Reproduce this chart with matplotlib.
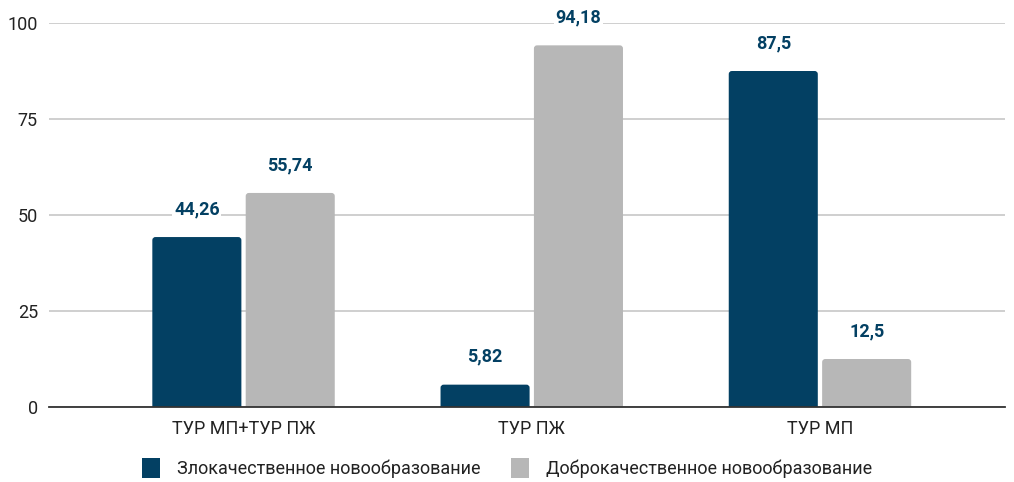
import matplotlib
matplotlib.use("Agg")
import matplotlib.pyplot as plt
from matplotlib.patches import FancyBboxPatch, Patch
import numpy as np

plt.rcParams['font.family'] = ['Roboto', 'DejaVu Sans']

categories = ["ТУР МП+ТУР ПЖ", "ТУР ПЖ", "ТУР МП"]
series_names = ["Злокачественное новообразование", "Доброкачественное новообразование"]
malignant = [44.26, 5.82, 87.5]
benign = [55.74, 94.18, 12.5]
labels_malignant = ["44,26", "5,82", "87,5"]
labels_benign = ["55,74", "94,18", "12,5"]
yticks = [0, 25, 50, 75, 100]

c_dark = "#034063"
c_gray = "#b7b7b7"

fig = plt.figure(figsize=(10.14, 4.82), dpi=100)
ax = fig.add_axes([49/1014, 1-407/482, (1005-49)/1014, (407-23)/482])

x = np.arange(len(categories))
w = 0.309
off = 0.162
b1 = ax.bar(x - off, malignant, w, color=c_dark, zorder=3, label=series_names[0])
b2 = ax.bar(x + off, benign, w, color=c_gray, zorder=3, label=series_names[1])

ax.set_xlim(-0.675, 2.642)
ax.set_ylim(0, 100)

# rounded tops
rx = 0.011
ry = 0.8
for bars in (b1, b2):
    for rect in bars:
        rect.set_visible(False)
        p = FancyBboxPatch((rect.get_x(), -3), rect.get_width(), rect.get_height() + 3,
                           boxstyle=f"round,pad=0,rounding_size={rx}",
                           mutation_aspect=ry / rx, fc=rect.get_facecolor(),
                           ec="none", zorder=3)
        ax.add_patch(p)

for bars, labs in ((b1, labels_malignant), (b2, labels_benign)):
    for rect, lab in zip(bars, labs):
        ax.annotate(lab, (rect.get_x() + rect.get_width()/2, rect.get_height()),
                    xytext=(0, 16.5), textcoords="offset points", ha="center", va="baseline",
                    fontsize=13, fontweight="bold", color=c_dark, zorder=5,
                    bbox=dict(boxstyle="square,pad=0.1", fc="white", ec="none"))

ax.set_yticks(yticks)
ax.set_yticklabels([str(t) for t in yticks], fontsize=13, color="#222222")
ax.set_xticks(x)
ax.set_xticklabels(categories, fontsize=13, color="#222222")
ax.tick_params(axis='both', length=0)
ax.tick_params(axis='y', pad=8)
ax.tick_params(axis='x', pad=9)
ax.grid(axis='y', color="#cccccc", linewidth=1.3, zorder=0)
for s in ["top", "right", "left"]:
    ax.spines[s].set_visible(False)
ax.spines["bottom"].set_color("#333333")
ax.spines["bottom"].set_linewidth(1.3)
ax.spines["bottom"].set_zorder(4)

handles = [Patch(facecolor=c_dark, edgecolor="none"), Patch(facecolor=c_gray, edgecolor="none")]
leg = fig.legend(handles=handles, labels=series_names, loc="center", ncol=2,
                 bbox_to_anchor=(0.5, 1-468/482), frameon=False, fontsize=13,
                 handlelength=1.0, handleheight=1.3, columnspacing=1.7, handletextpad=0.95)
for t in leg.get_texts():
    t.set_color("#222222")

fig.savefig("out.png", dpi=100)
